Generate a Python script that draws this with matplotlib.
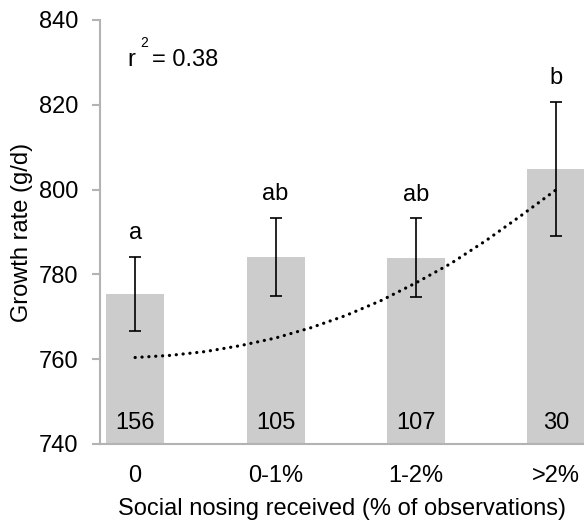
import matplotlib.pyplot as plt

plt.rcParams["font.family"] = ["Liberation Sans", "DejaVu Sans"]

# bar data
categories = ["0", "0-1%", "1-2%", ">2%"]
growth_mean = [775.4, 784.2, 783.9, 804.9]
growth_err = [8.7, 9.2, 9.3, 15.8]
letters = ["a", "ab", "ab", "b"]
counts = ["156", "105", "107", "30"]

# dotted trend line
trend_x = [0, 0.25, 0.5, 0.75, 1.0, 1.25, 1.5, 1.75, 2.0, 2.25, 2.5, 2.75, 3.0]
trend_y = [760.4, 760.9, 761.8, 763.2, 765.0, 767.4, 770.3, 773.8, 778.0, 782.6, 788.0, 793.9, 800.0]

FS = 17

fig = plt.figure(figsize=(5.84, 5.22), dpi=100)
ax = fig.add_axes([100 / 584, 78 / 522, 484 / 584, 424 / 522])

xs = list(range(len(categories)))
ax.bar(xs, growth_mean, width=0.413, color="#cccccc", zorder=1)
ax.errorbar(xs, growth_mean, yerr=growth_err, fmt="none", ecolor="black",
            elinewidth=1.2, capsize=4.5, capthick=1.2, zorder=3)
ax.plot(trend_x, trend_y, color="black", linewidth=2.3,
        linestyle=(0, (0.05, 2.1)), dash_capstyle="round", zorder=4)

for x, m, e, lab in zip(xs, growth_mean, growth_err, letters):
    ax.text(x, m + e + 4.2, lab, ha="center", va="baseline", fontsize=FS)
for x, n in zip(xs, counts):
    ax.text(x, 743.6, n, ha="center", va="baseline", fontsize=FS)

# r^2 label
fig.text(127 / 584, 1 - 66 / 522, "r", fontsize=FS, va="baseline")
fig.text(140 / 584, 1 - 47 / 522, "2", fontsize=10, va="baseline")
fig.text(152 / 584, 1 - 66 / 522, "= 0.38", fontsize=FS, va="baseline")

ax.set_ylim(740, 840)
ax.set_yticks([740, 760, 780, 800, 820, 840])
ax.set_xlim(-0.25, 3.197)
ax.set_xticks(xs)
ax.set_xticklabels(categories)

for s in ["top", "right"]:
    ax.spines[s].set_visible(False)
for s in ["left", "bottom"]:
    ax.spines[s].set_color("#b3b3b3")
    ax.spines[s].set_linewidth(1.5)
ax.tick_params(axis="y", length=5.5, width=1.5, color="#b3b3b3", pad=10, labelsize=FS)
ax.tick_params(axis="x", length=0, pad=15, labelsize=FS)

ax.set_ylabel("Growth rate (g/d)", fontsize=FS, labelpad=4)
ax.set_xlabel("Social nosing received (% of observations)", fontsize=FS, labelpad=8)

fig.savefig("out.png", dpi=100)
